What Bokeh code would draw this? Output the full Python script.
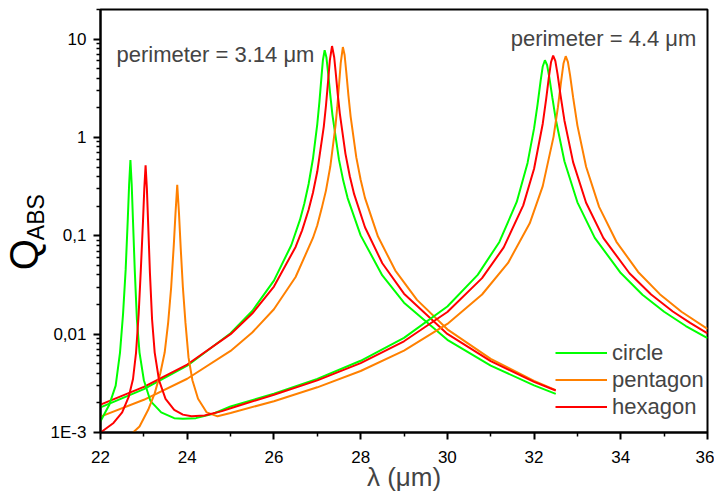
import math
from bokeh.plotting import figure
from bokeh.layouts import row
from bokeh.models import Range1d, FixedTicker, Label, Legend, LegendItem
from bokeh.core.properties import value
from bokeh.embed import file_html
from bokeh.resources import INLINE

# ---- data (wavelength in um, Q_ABS) ----
# perimeter = 3.14 um
lam_circle_314 = [22, 23, 24, 25, 25.5, 26, 26.4, 26.6, 26.7, 26.8, 26.9, 27.0, 27.05, 27.1, 27.13,
                  27.17, 27.21, 27.25, 27.3, 27.35, 27.5, 27.6, 27.7, 28, 28.5, 29, 30, 31, 32, 32.5]
q_circle_314 = [0.00180, 0.00276, 0.00478, 0.0102, 0.0172, 0.0350, 0.0802, 0.145, 0.212, 0.336, 0.607,
                1.37, 2.33, 4.31, 6.13, 7.7, 6.55, 4.52, 2.70, 1.69, 0.595, 0.362, 0.242, 0.101, 0.0395,
                0.0209, 0.00876, 0.00479, 0.00301, 0.00247]

lam_hexagon_314 = [22, 23, 24, 25, 25.5, 26, 26.5, 26.65, 26.8, 26.9, 27.0, 27.15, 27.2, 27.25, 27.29,
                   27.34, 27.39, 27.42, 27.47, 27.52, 27.65, 27.75, 27.85, 28.1, 28.5, 29, 30, 31, 32, 32.5]
q_hexagon_314 = [0.00192, 0.00291, 0.00491, 0.0100, 0.0162, 0.0305, 0.0770, 0.1136, 0.184, 0.274, 0.450,
                 1.29, 2.10, 3.77, 6.12, 8.5, 6.54, 4.82, 2.81, 1.75, 0.681, 0.403, 0.265, 0.122, 0.0526,
                 0.0258, 0.01005, 0.00531, 0.00327, 0.00267]

lam_pentagon_314 = [22, 23, 24, 25, 25.5, 26, 26.5, 26.9, 27.0, 27.1, 27.2, 27.3, 27.42, 27.46, 27.5,
                    27.54, 27.59, 27.63, 27.67, 27.72, 27.77, 27.9, 28.0, 28.1, 28.4, 28.8, 29.3, 30, 31,
                    32, 32.5]
q_pentagon_314 = [0.00145, 0.00215, 0.00352, 0.00675, 0.0104, 0.0179, 0.0381, 0.0951, 0.128, 0.189,
                  0.288, 0.506, 1.32, 2.03, 3.35, 5.69, 8.3, 6.89, 4.57, 2.63, 1.62, 0.627, 0.371, 0.243,
                  0.0982, 0.0443, 0.0223, 0.0112, 0.00560, 0.00335, 0.00270]

# perimeter = 4.4 um
lam_circle_44 = [22.0, 22.2, 22.35, 22.45, 22.52, 22.58, 22.63, 22.66, 22.69, 22.72, 22.75, 22.79, 22.84,
                 22.9, 23.0, 23.15, 23.4, 23.7, 23.9, 24.2, 24.6, 25.0, 26, 27, 28, 29, 30, 30.7, 31.2,
                 31.6, 31.85, 32.0, 32.08, 32.15, 32.2, 32.25, 32.3, 32.35, 32.42, 32.5, 32.7, 33.0,
                 33.4, 34.0, 34.5, 35.0, 35.5, 36.0]
q_circle_44 = [0.0013, 0.0019, 0.0030, 0.0065, 0.016, 0.045, 0.15, 0.33, 0.59, 0.33, 0.14, 0.045, 0.014,
               0.0065, 0.0034, 0.0021, 0.0016, 0.0014, 0.00138, 0.0014, 0.00155, 0.00184, 0.00248,
               0.00351, 0.00536, 0.00917, 0.0191, 0.0401, 0.0866, 0.221, 0.551, 1.235, 2.16, 3.74, 5.27,
               6.1, 5.45, 4.13, 2.57, 1.53, 0.573, 0.219, 0.0953, 0.0418, 0.0252, 0.0169, 0.0121, 0.00910]

lam_hexagon_44 = [22.0, 22.3, 22.5, 22.65, 22.75, 22.82, 22.88, 22.93, 22.98, 23.01, 23.04, 23.07, 23.10,
                  23.14, 23.19, 23.25, 23.35, 23.5, 23.7, 23.9, 24.1, 24.4, 24.8, 25.2, 26, 27, 28, 29,
                  30, 30.8, 31.3, 31.75, 32.0, 32.2, 32.28, 32.34, 32.39, 32.44, 32.49, 32.54, 32.61,
                  32.7, 32.9, 33.2, 33.6, 34.2, 34.7, 35.2, 35.6, 36]
q_hexagon_44 = [0.00100, 0.00125, 0.0016, 0.0023, 0.0035, 0.0065, 0.016, 0.045, 0.14, 0.30, 0.52, 0.30,
                0.13, 0.042, 0.014, 0.0065, 0.0034, 0.0022, 0.0017, 0.00152, 0.00146, 0.00149, 0.00165,
                0.00188, 0.00242, 0.00339, 0.00508, 0.00846, 0.0168, 0.0371, 0.0762, 0.204, 0.481, 1.38,
                2.48, 4.05, 5.81, 6.8, 6.01, 4.46, 2.70, 1.49, 0.561, 0.217, 0.0948, 0.0416, 0.0253,
                0.0170, 0.0130, 0.0102]

lam_pentagon_44 = [22.75, 22.9, 23.1, 23.25, 23.38, 23.48, 23.56, 23.63, 23.69, 23.73, 23.77, 23.81,
                   23.85, 23.90, 23.96, 24.03, 24.12, 24.25, 24.45, 24.7, 25.0, 26, 27, 28, 29, 30, 30.8,
                   31.4, 31.9, 32.2, 32.45, 32.55, 32.62, 32.68, 32.73, 32.78, 32.83, 32.9, 33.0, 33.2,
                   33.5, 33.9, 34.4, 34.9, 35.4, 36]
q_pentagon_44 = [0.00100, 0.00115, 0.0017, 0.0025, 0.0040, 0.0065, 0.013, 0.030, 0.080, 0.17, 0.33, 0.17,
                 0.075, 0.030, 0.013, 0.0058, 0.0034, 0.0022, 0.0016, 0.00146, 0.00158, 0.00208, 0.00288,
                 0.00422, 0.00679, 0.0127, 0.0253, 0.0530, 0.134, 0.320, 1.02, 2.03, 3.60, 5.69, 6.7,
                 5.88, 4.30, 2.57, 1.32, 0.503, 0.197, 0.0869, 0.0429, 0.0255, 0.0169, 0.0113]

x_ticks = [22, 24, 26, 28, 30, 32, 34, 36]
x_minor = [23, 25, 27, 29, 31, 33, 35]
y_ticks = [0.001, 0.01, 0.1, 1, 10]
y_tick_labels = ["1E-3", "0,01", "0,1", "1", "10"]
y_minor = [m * d for d in [0.001, 0.01, 0.1, 1, 10] for m in range(2, 10)]

GREEN = "#00ff00"
ORANGE = "#ff8000"
RED = "#ff0000"
FONT = "Liberation Sans"

H = 495
LEFT_W = 47

# ---- narrow strip to the left carrying the y-axis title Q_ABS ----
pl = figure(width=LEFT_W, height=H, x_range=Range1d(0, LEFT_W), y_range=Range1d(0, H),
            output_backend="svg", toolbar_location=None, x_axis_location=None, y_axis_location=None,
            min_border=0)
pl.outline_line_color = None
pl.xgrid.visible = False
pl.ygrid.visible = False
pl.text(x=[23], y=[H - 287], text=["Q"], angle=math.pi / 2, text_font=value(FONT),
        text_font_size="40px", text_align="center", text_baseline="middle", text_color="black")
pl.text(x=[35], y=[H - 243], text=["ABS"], angle=math.pi / 2, text_font=value(FONT),
        text_font_size="23px", text_align="center", text_baseline="middle", text_color="black")

# ---- main plot ----
p = figure(width=714 - LEFT_W, height=H, x_range=Range1d(22, 36), y_range=Range1d(0.001, 20),
           y_axis_type="log", output_backend="svg", toolbar_location=None,
           min_border_left=99 - LEFT_W, min_border_right=7, min_border_top=9, min_border_bottom=63)

p.xgrid.visible = False
p.ygrid.visible = False
p.outline_line_color = "black"
p.outline_line_width = 2

r_c = p.line(lam_circle_314, q_circle_314, line_color=GREEN, line_width=2)
r_p = p.line(lam_pentagon_314, q_pentagon_314, line_color=ORANGE, line_width=2)
r_h = p.line(lam_hexagon_314, q_hexagon_314, line_color=RED, line_width=2)
p.line(lam_circle_44, q_circle_44, line_color=GREEN, line_width=2)
p.line(lam_pentagon_44, q_pentagon_44, line_color=ORANGE, line_width=2)
p.line(lam_hexagon_44, q_hexagon_44, line_color=RED, line_width=2)

for ax in (p.xaxis[0], p.yaxis[0]):
    ax.axis_line_width = 2
    ax.major_tick_line_width = 2
    ax.minor_tick_line_width = 1.5
    ax.major_tick_in = 0
    ax.major_tick_out = 7
    ax.minor_tick_in = 0
    ax.minor_tick_out = 4
    ax.major_label_text_font = FONT
    ax.major_label_text_font_size = "17px"
    ax.major_label_text_color = "black"

p.xaxis.major_label_standoff = 11
p.yaxis.major_label_standoff = 7

p.xaxis.ticker = FixedTicker(ticks=x_ticks, minor_ticks=x_minor)
p.yaxis.ticker = FixedTicker(ticks=y_ticks, minor_ticks=y_minor)
p.yaxis.major_label_overrides = {t: s for t, s in zip(y_ticks, y_tick_labels)}

p.xaxis.axis_label = "λ (μm)"
p.xaxis.axis_label_text_font = FONT
p.xaxis.axis_label_text_font_size = "26px"
p.xaxis.axis_label_text_font_style = "normal"
p.xaxis.axis_label_standoff = -4

p.add_layout(Label(x=22.368, y=7.05, text="perimeter = 3.14 μm", text_font=FONT,
                   text_font_size="22px", text_align="left", text_baseline="middle"))
p.add_layout(Label(x=31.46, y=10.2, text="perimeter = 4.4 μm", text_font=FONT,
                   text_font_size="22px", text_align="left", text_baseline="middle"))

legend = Legend(items=[LegendItem(label="circle", renderers=[r_c]),
                       LegendItem(label="pentagon", renderers=[r_p]),
                       LegendItem(label="hexagon", renderers=[r_h])],
                location=(455, 12))
legend.padding = 0
legend.margin = 0
legend.spacing = 0
legend.glyph_width = 52
legend.glyph_height = 27
legend.label_height = 27
legend.label_standoff = 5
legend.label_text_font = FONT
legend.label_text_font_size = "22px"
legend.border_line_alpha = 0
legend.background_fill_alpha = 0
p.add_layout(legend)

layout = row(pl, p, spacing=0)
open("out.html", "w").write(file_html(layout, INLINE))
